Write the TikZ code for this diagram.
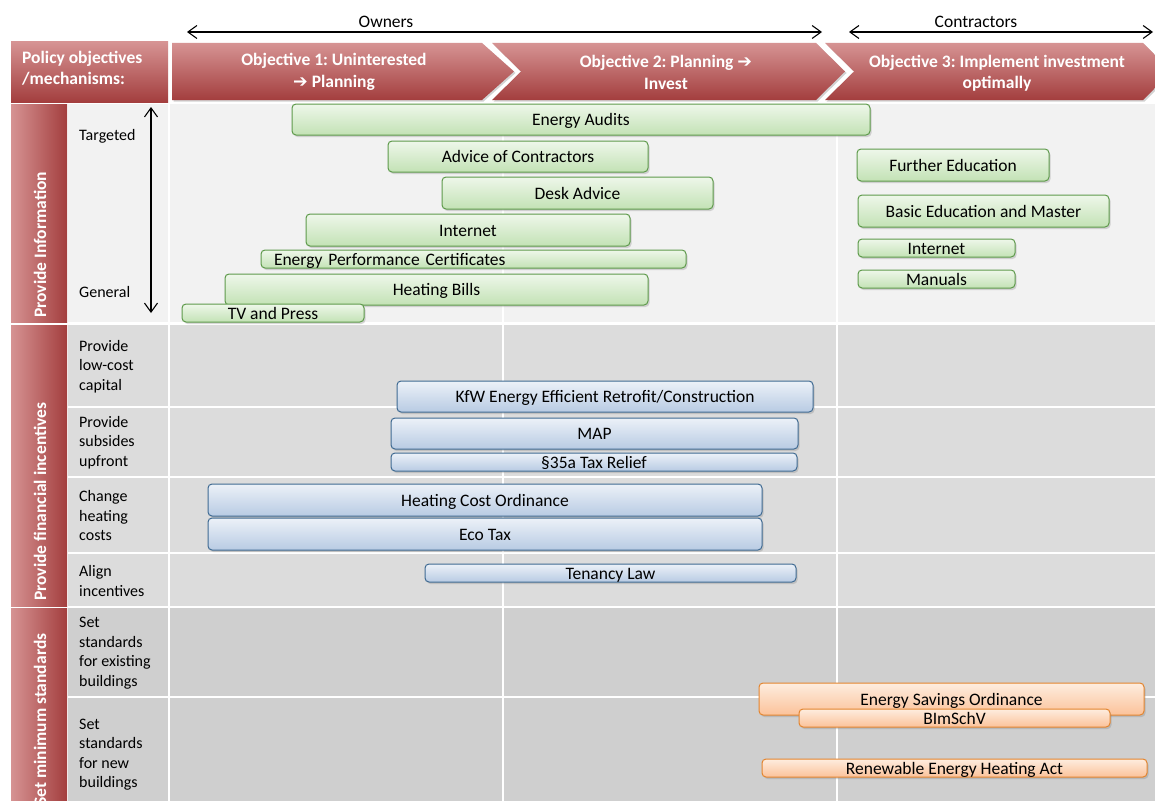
\documentclass[tikz,border=0pt]{standalone}
\usepackage{fontspec}
\setmainfont{Carlito}
\newfontfamily\dejavu{DejaVu Sans}
\usetikzlibrary{arrows.meta,shadows}
\frenchspacing
\definecolor{hdrtop}{HTML}{D69393}
\definecolor{hdrbot}{HTML}{A33E3E}
\definecolor{infobg}{HTML}{F2F2F2}
\definecolor{finbg}{HTML}{DCDCDC}
\definecolor{stdbg}{HTML}{CFCFCF}
\definecolor{gtop}{HTML}{EEF7EA}
\definecolor{gbot}{HTML}{C3E2B5}
\definecolor{gdraw}{HTML}{5E9A4B}
\definecolor{btop}{HTML}{ECF1F8}
\definecolor{bbot}{HTML}{B8CBE3}
\definecolor{bdraw}{HTML}{3F6A92}
\definecolor{otop}{HTML}{FEEDDF}
\definecolor{obot}{HTML}{FBC29A}
\definecolor{odraw}{HTML}{E3852F}
\newcommand\mybar[7]{%
  \node[#1, minimum width={(#4-#3)*1pt}, minimum height={(#6-#5)*1pt}] (#2) at ({(#3+#4)/2},{(#5+#6)/2}) {#7};}
\begin{document}
\begin{tikzpicture}[x=1pt,y=-1pt,
  bartext/.style={font=\fontsize{17.5}{21}\selectfont},
  bar/.style={bartext, rounded corners=4pt, line width=1pt, inner xsep=4pt, inner ysep=0pt,
    text height=14pt, text depth=2pt,
    drop shadow={shadow xshift=1.5pt, shadow yshift=-2pt, opacity=.3}},
  gbar/.style={bar, draw=gdraw, top color=gtop, bottom color=gbot},
  bbar/.style={bar, draw=bdraw, top color=btop, bottom color=bbot},
  obar/.style={bar, draw=odraw, top color=otop, bottom color=obot},
  lbl/.style={font=\fontsize{16}{19.5}\selectfont, align=left, inner sep=0pt, anchor=west},
  hdr/.style={font=\fontsize{17.5}{21.5}\selectfont\bfseries, text=white, align=center, inner sep=0pt},
  sectxt/.style={font=\fontsize{17.5}{21}\selectfont\bfseries, text=white, inner sep=0pt, rotate=90, anchor=west},
  redv/.style={left color=hdrtop, right color=hdrbot},
  redh/.style={top color=hdrtop, bottom color=hdrbot},
  chev/.style={redh, drop shadow={shadow xshift=1.5pt, shadow yshift=-1.5pt, opacity=.35}},
  sep/.style={white, line width=2.5pt},
  rng/.style={line width=1.1pt, {Straight Barb[length=9pt,width=13pt]}-{Straight Barb[length=9pt,width=13pt]}},
  toplbl/.style={font=\fontsize{17.5}{21}\selectfont, inner sep=0pt}
]
\useasboundingbox (0,0) rectangle (1155,800);
\clip (0,0) rectangle (1155,800);
\fill[white] (0,0) rectangle (1155,800);

% section backgrounds
\fill[infobg] (68,104) rectangle (1155,322);
\fill[finbg] (68,325) rectangle (1155,606);
\fill[stdbg] (68,608) rectangle (1155,820);
\foreach \y in {407,477,553,697} \draw[sep] (68,\y) -- (1155,\y);
\foreach \x in {169,503,837} \draw[sep] (\x,104) -- (\x,820);
\draw[sep] (68,323.5) -- (1155,323.5);
\draw[sep] (68,607) -- (1155,607);

% red section bars
\path[redv] (11,104) rectangle (67,322);
\path[redv] (11,325) rectangle (67,606);
\path[redv] (11,608) rectangle (67,820);
\node[sectxt] (secinfo) at (40,318) {Provide Information};
\node[sectxt] (secfin) at (40,601) {Provide financial incentives};
\node[sectxt] (secstd) at (40,806) {Set minimum standards};

% header
\path[redh] (11,42) rectangle (168,102);
\node[hdr, anchor=west, align=left] (policy) at (22,68) {Policy objectives\\/mechanisms:};
\path[chev] (172,43) -- (482,43) -- (514,71.5) -- (482,100) -- (172,100) -- cycle;
\path[chev] (492,43) -- (816,43) -- (845,71.5) -- (816,100) -- (492,100) -- (521,71.5) -- cycle;
\path[chev] (825,43) -- (1143,43) -- (1172,71.5) -- (1143,100) -- (825,100) -- (854,71.5) -- cycle;
\node[hdr] (obj1) at (334,72) {Objective 1: Uninterested\\{\dejavu\bfseries ➔} Planning};
\node[hdr] (obj2) at (666,72.5) {Objective 2: Planning {\dejavu\bfseries ➔}\\Invest};
\node[hdr] (obj3) at (997,73) {Objective 3: Implement investment\\optimally};

% top ranges
\coordinate (ownL) at (187,32);
\coordinate (ownR) at (822,32);
\coordinate (conL) at (849,32);
\coordinate (conR) at (1153,32);
\draw[rng] (ownL) -- (ownR);
\draw[rng] (conL) -- (conR);
\node[toplbl] (owners) at (386,22) {Owners};
\node[toplbl] (contractors) at (976,22) {Contractors};

% left labels
\coordinate (tgt) at (151,107);
\coordinate (gen) at (151,313);
\draw[rng] (tgt) -- (gen);
\node[lbl] (ltarget) at (79,136) {Targeted};
\node[lbl] (lgeneral) at (79,292) {General};
\node[lbl] (lcap) at (79,366.5) {Provide\\low-cost\\capital};
\node[lbl] (lsub) at (79,442.5) {Provide\\subsides\\upfront};
\node[lbl] (lheat) at (79,515.5) {Change\\heating\\costs};
\node[lbl] (lalign) at (79,581) {Align\\incentives};
\node[lbl] (lexist) at (79,653) {Set\\standards\\for existing\\buildings};
\node[lbl] (lnew) at (79,754.5) {Set\\standards\\for new\\buildings};

% green bars
\mybar{gbar}{audits}{292}{870}{104}{135}{Energy Audits}
\mybar{gbar}{advice}{388}{648}{141}{172}{Advice of Contractors}
\mybar{gbar}{desk}{442}{713}{177}{209}{Desk Advice}
\mybar{gbar}{inetA}{306}{630}{214}{246}{Internet}
\mybar{gbar, text width=399pt, inner xsep=13pt, align=left}{epc}{261}{686}{250}{268}{Energy Performance Certificates}
\mybar{gbar}{bills}{225}{648}{274}{305}{Heating Bills}
\mybar{gbar}{tv}{182}{364}{304}{322}{TV and Press}
\mybar{gbar}{further}{857}{1049}{149}{181}{Further Education}
\mybar{gbar}{basic}{858}{1109}{195}{227}{Basic Education and Master}
\mybar{gbar}{inetB}{858}{1015}{239}{257}{Internet}
\mybar{gbar}{manuals}{858}{1015}{270}{288}{Manuals}

% blue bars
\mybar{bbar}{kfw}{397}{813}{381}{412}{KfW Energy Efficient Retrofit/Construction}
\mybar{bbar}{map}{391}{798}{418}{449}{MAP}
\mybar{bbar}{tax}{391}{797}{453}{471}{§35a Tax Relief}
\mybar{bbar}{hco}{208}{762}{484}{516}{Heating Cost Ordinance}
\mybar{bbar}{eco}{208}{762}{518}{550}{Eco Tax}
\mybar{bbar}{tenancy}{425}{796}{564}{582}{Tenancy Law}

% orange bars
\mybar{obar}{eso}{759}{1144}{683}{715}{Energy Savings Ordinance}
\mybar{obar}{bimsch}{799}{1110}{709}{727}{BImSchV}
\mybar{obar}{reha}{762}{1147}{759}{777}{Renewable Energy Heating Act}
\end{tikzpicture}
\end{document}
